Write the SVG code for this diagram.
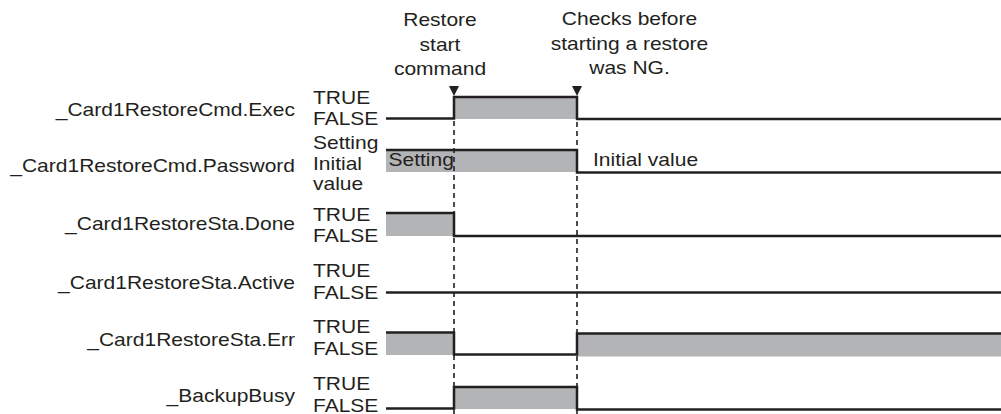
<svg xmlns="http://www.w3.org/2000/svg" width="1001" height="414" viewBox="0 0 1001 414">
<style>
text{font-family:"Liberation Sans",Arial,sans-serif;font-size:18.6px;fill:#231f20;transform:scale(1.13,1);transform-origin:0 0}
.lbl{text-anchor:end}
.ctr{text-anchor:middle}
.sig{fill:none;stroke:#231f20;stroke-width:2.5;stroke-linejoin:miter}
.fill{fill:#b3b4b6;stroke:none}
.dash{stroke:#231f20;stroke-width:1.6;stroke-dasharray:5,4;fill:none}
.tri{fill:#231f20}
</style>
<rect width="1001" height="414" fill="#fff"/>

<g id="events">
<text class="ctr" x="389.4" y="26.5">Restore</text>
<text class="ctr" x="389.4" y="51">start</text>
<text class="ctr" x="389.4" y="75.5">command</text>
<text class="ctr" x="557.1" y="25.5">Checks before</text>
<text class="ctr" x="557.1" y="50">starting a restore</text>
<text class="ctr" x="557.1" y="74.5">was NG.</text>
</g>

<g id="sig-exec">
<text class="lbl" x="261.1" y="116">_Card1RestoreCmd.Exec</text>
<text x="277" y="104.5">TRUE</text>
<text x="277" y="125">FALSE</text>
<rect class="fill" x="454" y="97" width="123" height="22"/>
<polyline class="sig" points="386,118.5 454,118.5 454,97 577,97 577,119 1001,119"/>
</g>

<g id="sig-password">
<text class="lbl" x="261.1" y="172">_Card1RestoreCmd.Password</text>
<text x="277" y="149">Setting</text>
<text x="277" y="170">Initial</text>
<text x="277" y="190.5">value</text>
<rect class="fill" x="386" y="150" width="191" height="22"/>
<polyline class="sig" points="386,150 577,150 577,172.5 1001,172.5"/>
<text x="343.8" y="166.5">Setting</text>
<text x="524.8" y="166">Initial value</text>
</g>

<g id="sig-done">
<text class="lbl" x="261.1" y="230">_Card1RestoreSta.Done</text>
<text x="277" y="221">TRUE</text>
<text x="277" y="242">FALSE</text>
<rect class="fill" x="386" y="213" width="68" height="23"/>
<polyline class="sig" points="386,213 454,213 454,236 1001,236"/>
</g>

<g id="sig-active">
<text class="lbl" x="261.1" y="289">_Card1RestoreSta.Active</text>
<text x="277" y="277">TRUE</text>
<text x="277" y="299">FALSE</text>
<polyline class="sig" points="386,292.5 1001,292.5"/>
</g>

<g id="sig-err">
<text class="lbl" x="261.1" y="346">_Card1RestoreSta.Err</text>
<text x="277" y="333">TRUE</text>
<text x="277" y="355">FALSE</text>
<rect class="fill" x="386" y="332" width="68" height="23"/>
<rect class="fill" x="577" y="333" width="424" height="23.5"/>
<polyline class="sig" points="386,332.5 454,332.5 454,354.5 577,354.5 577,333.5 1001,333.5"/>
</g>

<g id="sig-busy">
<text class="lbl" x="261.1" y="402">_BackupBusy</text>
<text x="277" y="390">TRUE</text>
<text x="277" y="412">FALSE</text>
<rect class="fill" x="454" y="387" width="123" height="22"/>
<polyline class="sig" points="386,408.5 454,408.5 454,387 577,387 577,409.5 1001,409.5"/>
</g>

<g id="connectors">
<line class="dash" x1="454" y1="121" x2="454" y2="414"/>
<line class="dash" x1="577" y1="122" x2="577" y2="414"/>
<polygon class="tri" points="449,86 459,86 454,96"/>
<polygon class="tri" points="572,86 582,86 577,96"/>
</g>
</svg>
